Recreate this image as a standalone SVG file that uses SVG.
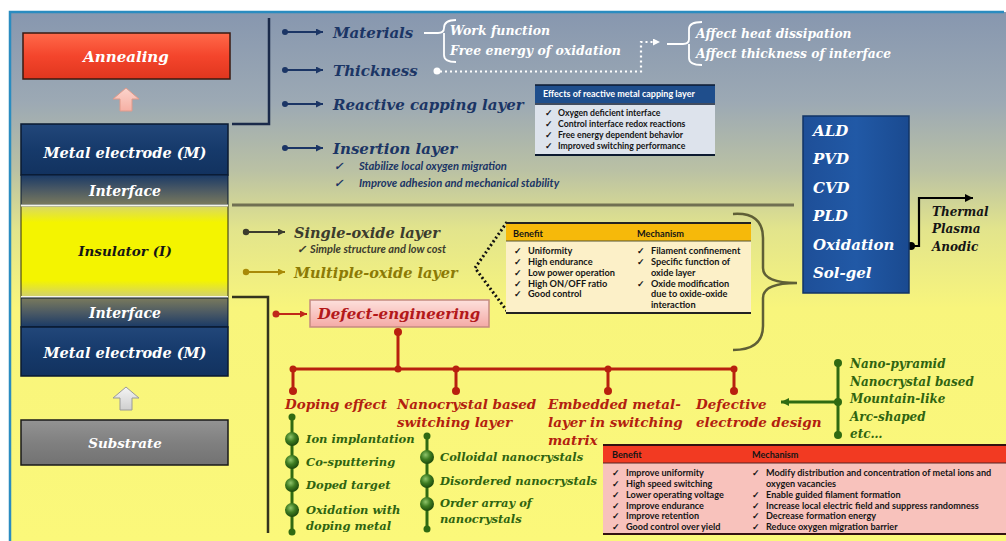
<svg xmlns="http://www.w3.org/2000/svg" width="1006" height="541" viewBox="0 0 1006 541">
<defs>
<style>
.s{font-family:"DejaVu Serif","Liberation Serif",serif;font-weight:bold;font-style:italic;}
.c{font-family:Lato,"Liberation Sans",sans-serif;font-weight:bold;}
.ci{font-family:Lato,"Liberation Sans",sans-serif;font-weight:bold;font-style:italic;}
.w{fill:#ffffff;}
.navy{fill:#1b3565;}
.red{fill:#b3200f;}
.grn{fill:#2f6410;}
.blk{fill:#151515;}
.mid{dominant-baseline:central;}
.cen{text-anchor:middle;}
</style>
<linearGradient id="bg" x1="0" y1="0" x2="0" y2="1">
<stop offset="0" stop-color="#8797af"/>
<stop offset="0.17" stop-color="#9ca9b4"/>
<stop offset="0.3" stop-color="#bac1a4"/>
<stop offset="0.41" stop-color="#e2e48c"/>
<stop offset="0.56" stop-color="#f8f57c"/>
<stop offset="1" stop-color="#fbf87a"/>
</linearGradient>
<linearGradient id="gAnn" x1="0" y1="0" x2="0" y2="1">
<stop offset="0" stop-color="#ff6a4a"/>
<stop offset="0.5" stop-color="#f4452c"/>
<stop offset="1" stop-color="#e0361e"/>
</linearGradient>
<linearGradient id="gNavy" x1="0" y1="0" x2="0" y2="1">
<stop offset="0" stop-color="#22477a"/>
<stop offset="0.5" stop-color="#163a6b"/>
<stop offset="1" stop-color="#12325f"/>
</linearGradient>
<linearGradient id="gIfTop" x1="0" y1="0" x2="0" y2="1">
<stop offset="0" stop-color="#1a3a66"/>
<stop offset="0.5" stop-color="#4c5a64"/>
<stop offset="1" stop-color="#7a7a5c"/>
</linearGradient>
<linearGradient id="gIfBot" x1="0" y1="0" x2="0" y2="1">
<stop offset="0" stop-color="#7a7a5c"/>
<stop offset="0.5" stop-color="#4c5a64"/>
<stop offset="1" stop-color="#1a3a66"/>
</linearGradient>
<linearGradient id="gIns" x1="0" y1="0" x2="0" y2="1">
<stop offset="0" stop-color="#d8d866"/>
<stop offset="0.18" stop-color="#f4f400"/>
<stop offset="0.82" stop-color="#f4f400"/>
<stop offset="1" stop-color="#d0d070"/>
</linearGradient>
<linearGradient id="gSub" x1="0" y1="0" x2="0" y2="1">
<stop offset="0" stop-color="#939393"/>
<stop offset="0.5" stop-color="#808080"/>
<stop offset="1" stop-color="#727272"/>
</linearGradient>
<linearGradient id="gBlue" x1="0" y1="0" x2="1" y2="0">
<stop offset="0" stop-color="#1e4f98"/>
<stop offset="0.5" stop-color="#2159a6"/>
<stop offset="1" stop-color="#1a4a90"/>
</linearGradient>
<linearGradient id="gDef" x1="0" y1="0" x2="0" y2="1">
<stop offset="0" stop-color="#fde0dc"/>
<stop offset="1" stop-color="#f4aaa6"/>
</linearGradient>
<linearGradient id="gPinkArr" x1="0" y1="0" x2="0" y2="1">
<stop offset="0" stop-color="#fbd4cc"/>
<stop offset="1" stop-color="#f6b0a4"/>
</linearGradient>
<linearGradient id="gGreyArr" x1="0" y1="0" x2="0" y2="1">
<stop offset="0" stop-color="#f4f4f4"/>
<stop offset="1" stop-color="#cfcfcf"/>
</linearGradient>
<radialGradient id="ball" cx="0.4" cy="0.35" r="0.65">
<stop offset="0" stop-color="#8fc46a"/>
<stop offset="0.5" stop-color="#3f7d22"/>
<stop offset="1" stop-color="#1c4a0c"/>
</radialGradient>
<marker id="mNavy" viewBox="0 0 10 10" refX="10" refY="5" markerWidth="8" markerHeight="7" markerUnits="userSpaceOnUse" orient="auto"><path d="M0,0 L10,5 L0,10 z" fill="#1b3565"/></marker>
<marker id="mDark" viewBox="0 0 10 10" refX="10" refY="5" markerWidth="8" markerHeight="7" markerUnits="userSpaceOnUse" orient="auto"><path d="M0,0 L10,5 L0,10 z" fill="#3c3c2e"/></marker>
<marker id="mGold" viewBox="0 0 10 10" refX="10" refY="5" markerWidth="8" markerHeight="7" markerUnits="userSpaceOnUse" orient="auto"><path d="M0,0 L10,5 L0,10 z" fill="#a88a08"/></marker>
<marker id="mRed" viewBox="0 0 10 10" refX="10" refY="5" markerWidth="8" markerHeight="7" markerUnits="userSpaceOnUse" orient="auto"><path d="M0,0 L10,5 L0,10 z" fill="#c0281a"/></marker>
<marker id="mBlack" viewBox="0 0 10 10" refX="10" refY="5" markerWidth="10" markerHeight="8" markerUnits="userSpaceOnUse" orient="auto"><path d="M0,0 L10,5 L0,10 z" fill="#000000"/></marker>
<marker id="mWhite" viewBox="0 0 10 10" refX="10" refY="5" markerWidth="8" markerHeight="7" markerUnits="userSpaceOnUse" orient="auto"><path d="M0,0 L10,5 L0,10 z" fill="#ffffff"/></marker>
<marker id="mGreen" viewBox="0 0 10 10" refX="10" refY="5" markerWidth="10" markerHeight="8" markerUnits="userSpaceOnUse" orient="auto"><path d="M0,0 L10,5 L0,10 z" fill="#2f6a12"/></marker>
</defs>

<rect x="0" y="0" width="1006" height="541" fill="#ffffff"/>
<rect x="10" y="12" width="996" height="529" fill="url(#bg)"/>
<path d="M10,541 V12 H1004" fill="none" stroke="#2a8cc0" stroke-width="2.5"/>

<!-- left stack -->
<g id="annealing">
<rect x="23" y="33" width="207" height="46" fill="url(#gAnn)" stroke="#3a1a10" stroke-width="1.5"/>
<text class="s w cen mid" x="126" y="57" font-size="15">Annealing</text>
</g>
<g id="arrow-anneal">
<polygon points="126,88 139,99 132,99 132,111 120,111 120,99 113,99" fill="url(#gPinkArr)" stroke="#e09a8a" stroke-width="1"/>
</g>
<g id="metal-top">
<rect x="21" y="124" width="207" height="51" fill="url(#gNavy)" stroke="#0a1a30" stroke-width="1.5"/>
<text class="s w cen mid" x="125" y="152" font-size="14.5">Metal electrode (M)</text>
</g>
<g id="interface-top">
<rect x="21" y="175" width="207" height="30" fill="url(#gIfTop)" stroke="#0a1a30" stroke-width="1"/>
<text class="s w cen mid" x="125" y="191" font-size="14">Interface</text>
</g>
<g id="insulator">
<rect x="21" y="206" width="207" height="91" fill="url(#gIns)" stroke="#2a2a10" stroke-width="1"/>
<line x1="21" y1="205.5" x2="228" y2="205.5" stroke="#f4f4e8" stroke-width="2"/>
<line x1="21" y1="297" x2="228" y2="297" stroke="#f4f4e8" stroke-width="2"/>
<text class="s blk cen mid" x="125" y="251" font-size="13.5">Insulator (I)</text>
</g>
<g id="interface-bot">
<rect x="21" y="298" width="207" height="29" fill="url(#gIfBot)" stroke="#0a1a30" stroke-width="1"/>
<text class="s w cen mid" x="125" y="313" font-size="14">Interface</text>
</g>
<g id="metal-bot">
<rect x="21" y="327" width="207" height="49" fill="url(#gNavy)" stroke="#0a1a30" stroke-width="1.5"/>
<text class="s w cen mid" x="125" y="352" font-size="14.5">Metal electrode (M)</text>
</g>
<g id="arrow-sub">
<polygon points="126,387 139,398 132,398 132,410 120,410 120,398 113,398" fill="url(#gGreyArr)" stroke="#9a9a9a" stroke-width="1"/>
</g>
<g id="substrate">
<rect x="21" y="420" width="207" height="45" fill="url(#gSub)" stroke="#1a1a1a" stroke-width="1.5"/>
<text class="s w cen mid" x="125" y="443" font-size="13.5">Substrate</text>
</g>

<!-- connectors -->
<g id="connectors" fill="none">
<path d="M269,18 V124 H232" stroke="#1a2a4a" stroke-width="2.5"/>
<line x1="232" y1="205" x2="794" y2="205" stroke="#707052" stroke-width="3"/>
<path d="M232,297 H268 V533" stroke="#34341e" stroke-width="2.5"/>
<g stroke="#1b3565" stroke-width="2">
<line x1="285" y1="32" x2="323" y2="32" marker-end="url(#mNavy)"/>
<line x1="285" y1="70" x2="323" y2="70" marker-end="url(#mNavy)"/>
<line x1="285" y1="104" x2="323" y2="104" marker-end="url(#mNavy)"/>
<line x1="285" y1="148" x2="323" y2="148" marker-end="url(#mNavy)"/>
</g>
<g fill="#1b3565"><circle cx="285" cy="32" r="3"/><circle cx="285" cy="70" r="3"/><circle cx="285" cy="104" r="3"/><circle cx="285" cy="148" r="3"/></g>
<!-- white braces -->
<path d="M424,33 H438 Q444,33 444,28 Q444,20 456,20 M444,33 Q444,37 444,40 V55 Q444,62 456,62" stroke="#ffffff" stroke-width="1.8"/>
<path d="M667,44 H683 Q689,44 689,39 V29 Q689,22 702,22 M689,44 V58 Q689,65 702,65" stroke="#ffffff" stroke-width="1.8"/>
<circle cx="437" cy="71" r="3.5" fill="#ffffff"/>
<path d="M440,71.5 H641 V42 H660" stroke="#ffffff" stroke-width="2.2" stroke-dasharray="2 3" marker-end="url(#mWhite)"/>
<!-- single/multiple -->
<line x1="246" y1="232" x2="285" y2="232" stroke="#3c3c2e" stroke-width="2" marker-end="url(#mDark)"/>
<circle cx="246" cy="232" r="3.2" fill="#3c3c2e"/>
<line x1="246" y1="272" x2="285" y2="272" stroke="#a88a08" stroke-width="2" marker-end="url(#mGold)"/>
<circle cx="246" cy="272" r="3.2" fill="#a88a08"/>
<path d="M507,222 L475,268 L507,311" stroke="#111111" stroke-width="3" stroke-dasharray="2 2.5"/>
<path d="M733,214 Q763,212 763,238 V268 Q763,283 797,283 Q763,283 763,298 V326 Q763,350 733,350" stroke="#5f5f36" stroke-width="2.5"/>
<!-- oxidation connector -->
<path d="M911,246 H919 V198 H973" stroke="#000000" stroke-width="2.2" marker-end="url(#mBlack)"/>
<circle cx="911" cy="246" r="4" fill="#000000"/>
<!-- defect -->
<line x1="276" y1="314" x2="307" y2="314" stroke="#c0281a" stroke-width="2" marker-end="url(#mRed)"/>
<circle cx="276" cy="314" r="3.5" fill="#c0281a"/>
<g stroke="#b8200f" stroke-width="3">
<line x1="398" y1="332" x2="398" y2="369"/>
<line x1="293" y1="369" x2="734" y2="369"/>
<line x1="293" y1="369" x2="293" y2="391"/>
<line x1="456" y1="369" x2="456" y2="391"/>
<line x1="608" y1="369" x2="608" y2="391"/>
<line x1="734" y1="369" x2="734" y2="391"/>
</g>
<g fill="#b8200f">
<circle cx="398" cy="332" r="4"/><circle cx="398" cy="369" r="3.5"/>
<circle cx="293" cy="369" r="3.5"/><circle cx="456" cy="369" r="3.5"/><circle cx="608" cy="369" r="3.5"/><circle cx="734" cy="369" r="3.5"/>
<circle cx="293" cy="391" r="4"/><circle cx="456" cy="391" r="4"/><circle cx="608" cy="391" r="4"/><circle cx="734" cy="391" r="4"/>
</g>
<!-- green lists -->
<g stroke="#2f6a12" stroke-width="3">
<line x1="292" y1="417" x2="292" y2="532"/>
<line x1="427" y1="436" x2="427" y2="529"/>
<line x1="838" y1="363" x2="838" y2="435"/>
</g>
<line x1="838" y1="402" x2="781" y2="402" stroke="#2f6a12" stroke-width="3" marker-end="url(#mGreen)"/>
<g fill="#2f6a12">
<circle cx="292" cy="417" r="3.5"/><circle cx="292" cy="532" r="3.5"/>
<circle cx="427" cy="436" r="3.5"/><circle cx="427" cy="529" r="3.5"/>
<circle cx="838" cy="363" r="4"/><circle cx="838" cy="402" r="4"/><circle cx="838" cy="435" r="4"/>
</g>
<g fill="url(#ball)">
<circle cx="292" cy="439" r="7"/><circle cx="292" cy="462" r="7"/><circle cx="292" cy="485" r="7"/><circle cx="292" cy="510" r="7"/>
<circle cx="427" cy="457" r="7"/><circle cx="427" cy="481" r="7"/><circle cx="427" cy="504" r="7"/>
</g>
</g>

<!-- top texts -->
<g id="materials">
<text class="s navy" x="333" y="38" font-size="15">Materials</text>
<text class="s w" x="450" y="35" font-size="12.5">Work function</text>
<text class="s w" x="450" y="55" font-size="12.5">Free energy of oxidation</text>
</g>
<g id="thickness">
<text class="s navy" x="333" y="76" font-size="15">Thickness</text>
<text class="s w" x="696" y="38" font-size="12.3">Affect heat dissipation</text>
<text class="s w" x="696" y="58" font-size="12.3">Affect thickness of interface</text>
</g>
<g id="reactive">
<text class="s navy" x="333" y="110" font-size="15">Reactive capping layer</text>
</g>
<g id="effects-box">
<rect x="535" y="85" width="180" height="70" fill="#dde3ec"/>
<rect x="535" y="85" width="180" height="18" fill="#1f4e8c"/>
<line x1="535" y1="85" x2="715" y2="85" stroke="#0c1a30" stroke-width="1.5"/>
<line x1="535" y1="104" x2="715" y2="104" stroke="#0c1a30" stroke-width="1.5"/>
<line x1="535" y1="155" x2="715" y2="155" stroke="#0c1a30" stroke-width="2"/>
<text class="c w" x="543" y="97" font-size="9">Effects of reactive metal capping layer</text>
<g class="c blk" font-size="8.7">
<text x="545" y="116">✓</text><text x="558" y="116">Oxygen deficient interface</text>
<text x="545" y="127">✓</text><text x="558" y="127">Control interface redox reactions</text>
<text x="545" y="138">✓</text><text x="558" y="138">Free energy dependent behavior</text>
<text x="545" y="149">✓</text><text x="558" y="149">Improved switching performance</text>
</g>
</g>
<g id="insertion">
<text class="s navy" x="333" y="154" font-size="15">Insertion layer</text>
<g class="ci navy" font-size="11.2">
<text x="334" y="170">✓</text><text x="359" y="170">Stabilize local oxygen migration</text>
<text x="334" y="187">✓</text><text x="359" y="187">Improve adhesion and mechanical stability</text>
</g>
</g>

<!-- deposition box -->
<g id="deposition">
<rect x="803" y="116" width="106" height="177" fill="url(#gBlue)" stroke="#123466" stroke-width="1.5"/>
<g class="s w" font-size="15">
<text class="mid" x="813" y="131">ALD</text>
<text class="mid" x="813" y="159">PVD</text>
<text class="mid" x="813" y="188">CVD</text>
<text class="mid" x="813" y="216">PLD</text>
<text class="mid" x="813" y="245">Oxidation</text>
<text class="mid" x="813" y="273">Sol-gel</text>
</g>
</g>
<g id="oxidation-types" class="s blk" font-size="12">
<text class="mid" x="932" y="212">Thermal</text>
<text class="mid" x="932" y="229">Plasma</text>
<text class="mid" x="932" y="247">Anodic</text>
</g>

<!-- single/multiple oxide -->
<g id="single-oxide">
<text class="s mid" x="294" y="232" font-size="14.5" fill="#3c3c2e">Single-oxide layer</text>
<text class="ci mid" x="297" y="248" font-size="11" fill="#3c3c2e">✓</text>
<text class="ci mid" x="310" y="248" font-size="11" fill="#3c3c2e">Simple structure and low cost</text>
</g>
<g id="multiple-oxide">
<text class="s mid" x="294" y="272" font-size="14.5" fill="#8c7a06">Multiple-oxide layer</text>
</g>
<g id="oxide-table">
<rect x="506" y="223" width="245" height="90" fill="#fcf0c8"/>
<rect x="506" y="223" width="245" height="18" fill="#f6b90a"/>
<line x1="506" y1="223" x2="751" y2="223" stroke="#222222" stroke-width="2"/>
<line x1="506" y1="241" x2="751" y2="241" stroke="#555533" stroke-width="1"/>
<line x1="506" y1="313" x2="751" y2="313" stroke="#222222" stroke-width="2"/>
<g class="c blk" font-size="9.2">
<text class="mid" x="513" y="233">Benefit</text>
<text class="mid" x="637" y="233">Mechanism</text>
<text class="mid" x="514" y="250">✓</text><text class="mid" x="528" y="250">Uniformity</text>
<text class="mid" x="514" y="261">✓</text><text class="mid" x="528" y="261">High endurance</text>
<text class="mid" x="514" y="272">✓</text><text class="mid" x="528" y="272">Low power operation</text>
<text class="mid" x="514" y="283">✓</text><text class="mid" x="528" y="283">High ON/OFF ratio</text>
<text class="mid" x="514" y="293">✓</text><text class="mid" x="528" y="293">Good control</text>
<text class="mid" x="637" y="250">✓</text><text class="mid" x="651" y="250">Filament confinement</text>
<text class="mid" x="637" y="261">✓</text><text class="mid" x="651" y="261">Specific function of</text>
<text class="mid" x="651" y="272">oxide layer</text>
<text class="mid" x="637" y="283">✓</text><text class="mid" x="651" y="283">Oxide modification</text>
<text class="mid" x="651" y="293">due to oxide-oxide</text>
<text class="mid" x="651" y="304">interaction</text>
</g>
</g>

<!-- defect engineering -->
<g id="defect-engineering">
<rect x="310" y="300" width="179" height="27" fill="url(#gDef)" stroke="#c48a80" stroke-width="1.5"/>
<text class="s cen mid" x="399" y="314" font-size="15" fill="#b3181a">Defect-engineering</text>
</g>
<g id="doping">
<text class="s red mid" x="285" y="404" font-size="13.5">Doping effect</text>
<g class="s grn" font-size="11.5">
<text class="mid" x="306" y="439">Ion implantation</text>
<text class="mid" x="306" y="462">Co-sputtering</text>
<text class="mid" x="306" y="485">Doped target</text>
<text class="mid" x="306" y="510">Oxidation with</text>
<text class="mid" x="306" y="526">doping metal</text>
</g>
</g>
<g id="nanocrystal">
<text class="s red mid" x="397" y="404" font-size="13.5">Nanocrystal based</text>
<text class="s red mid" x="397" y="422" font-size="13.5">switching layer</text>
<g class="s grn" font-size="11.5">
<text class="mid" x="440" y="457">Colloidal nanocrystals</text>
<text class="mid" x="440" y="481">Disordered nanocrystals</text>
<text class="mid" x="440" y="503">Order array of</text>
<text class="mid" x="440" y="519">nanocrystals</text>
</g>
</g>
<g id="embedded">
<text class="s red mid" x="548" y="404" font-size="13.5">Embedded metal-</text>
<text class="s red mid" x="548" y="422" font-size="13.5">layer in switching</text>
<text class="s red mid" x="548" y="440" font-size="13.5">matrix</text>
</g>
<g id="defective-electrode">
<text class="s red mid" x="696" y="404" font-size="13.5">Defective</text>
<text class="s red mid" x="696" y="422" font-size="13.5">electrode design</text>
</g>
<g id="electrode-shapes" class="s grn" font-size="12">
<text class="mid" x="850" y="364">Nano-pyramid</text>
<text class="mid" x="850" y="382">Nanocrystal based</text>
<text class="mid" x="850" y="399">Mountain-like</text>
<text class="mid" x="850" y="417">Arc-shaped</text>
<text class="mid" x="850" y="434">etc…</text>
</g>
<g id="electrode-table">
<rect x="603" y="445" width="403" height="89" fill="#f8c2bc"/>
<rect x="603" y="445" width="403" height="18" fill="#f23a22"/>
<line x1="603" y1="445" x2="1006" y2="445" stroke="#331111" stroke-width="2"/>
<line x1="603" y1="463" x2="1006" y2="463" stroke="#552222" stroke-width="1"/>
<line x1="603" y1="534" x2="1006" y2="534" stroke="#331111" stroke-width="2"/>
<g class="c blk" font-size="9.1">
<text class="mid" x="612" y="454">Benefit</text>
<text class="mid" x="752" y="454">Mechanism</text>
<text class="mid" x="612" y="472">✓</text><text class="mid" x="626" y="472">Improve uniformity</text>
<text class="mid" x="612" y="483">✓</text><text class="mid" x="626" y="483">High speed switching</text>
<text class="mid" x="612" y="494">✓</text><text class="mid" x="626" y="494">Lower operating voltage</text>
<text class="mid" x="612" y="505">✓</text><text class="mid" x="626" y="505">Improve endurance</text>
<text class="mid" x="612" y="515">✓</text><text class="mid" x="626" y="515">Improve retention</text>
<text class="mid" x="612" y="526">✓</text><text class="mid" x="626" y="526">Good control over yield</text>
<text class="mid" x="752" y="472">✓</text><text class="mid" x="766" y="472">Modify distribution and concentration of metal ions and</text>
<text class="mid" x="766" y="483">oxygen vacancies</text>
<text class="mid" x="752" y="494">✓</text><text class="mid" x="766" y="494">Enable guided filament formation</text>
<text class="mid" x="752" y="505">✓</text><text class="mid" x="766" y="505">Increase local electric field and suppress randomness</text>
<text class="mid" x="752" y="515">✓</text><text class="mid" x="766" y="515">Decrease formation energy</text>
<text class="mid" x="752" y="526">✓</text><text class="mid" x="766" y="526">Reduce oxygen migration barrier</text>
</g>
</g>
</svg>
